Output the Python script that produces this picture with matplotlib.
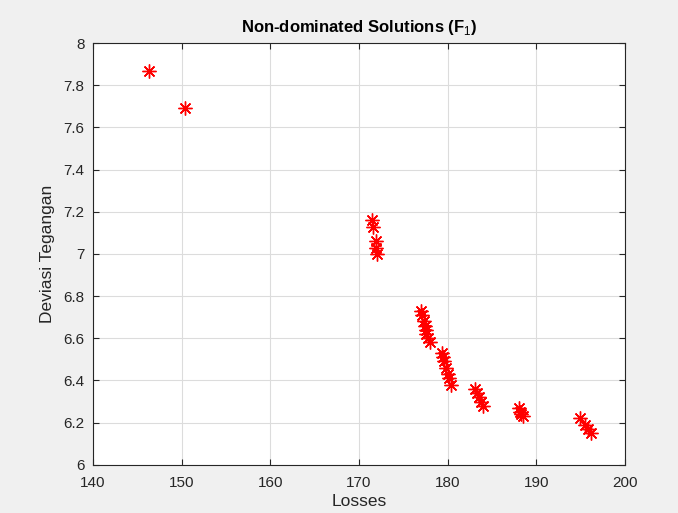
import matplotlib
matplotlib.use("Agg")
import matplotlib.pyplot as plt

plt.rcParams['font.family'] = ['Liberation Sans', 'DejaVu Sans']
plt.rcParams['mathtext.fontset'] = 'custom'
plt.rcParams['mathtext.rm'] = 'Liberation Sans'
plt.rcParams['mathtext.bf'] = 'Liberation Sans:bold'

losses = [146.3, 150.4,
          171.5, 171.6, 171.9, 171.9, 172.0,
          177.0, 177.1, 177.3, 177.4, 177.5, 177.6, 177.8, 178.0,
          179.4, 179.5, 179.6, 179.8, 180.0, 180.2, 180.4,
          183.1, 183.3, 183.5, 183.7, 184.0,
          188.0, 188.1, 188.3, 188.5,
          194.9, 195.5, 195.8, 196.1]
deviasi = [7.87, 7.69,
           7.16, 7.13, 7.06, 7.03, 7.00,
           6.73, 6.71, 6.68, 6.66, 6.64, 6.62, 6.60, 6.58,
           6.53, 6.51, 6.49, 6.46, 6.43, 6.41, 6.38,
           6.36, 6.34, 6.32, 6.30, 6.28,
           6.27, 6.25, 6.24, 6.23,
           6.22, 6.19, 6.17, 6.15]
xticks = [140, 150, 160, 170, 180, 190, 200]
yticks = [6, 6.2, 6.4, 6.6, 6.8, 7, 7.2, 7.4, 7.6, 7.8, 8]
ytick_labels = ["6", "6.2", "6.4", "6.6", "6.8", "7", "7.2", "7.4", "7.6", "7.8", "8"]

fig = plt.figure(figsize=(6.78, 5.13), dpi=100, facecolor="#f0f0f0")
ax = fig.add_axes([0.137, 0.094, 0.785, 0.822])
ax.set_facecolor("white")
ax.plot(losses, deviasi, linestyle="none", marker=(8, 2, 0), markersize=10,
        markeredgecolor="red", markeredgewidth=1.0, color="red")
ax.set_xlim(140, 200)
ax.set_ylim(6, 8)
ax.set_xticks(xticks)
ax.set_yticks(yticks)
ax.set_yticklabels(ytick_labels)
ax.grid(True, color="#dcdcdc", linewidth=0.8)
ax.set_axisbelow(True)
ax.tick_params(direction="in", top=True, right=True, labelsize=11,
               colors="#262626", length=4)
ax.tick_params(axis="x", pad=8)
ax.tick_params(axis="y", pad=6)
for s in ax.spines.values():
    s.set_color("#262626")
    s.set_linewidth(0.8)
ax.set_xlabel("Losses", fontsize=12.5, color="#262626", labelpad=3)
ax.set_ylabel("Deviasi Tegangan", fontsize=12.5, color="#262626", labelpad=6)
ax.set_title("Non-dominated Solutions (F$_1$)", fontsize=12, fontweight="bold",
             color="black", pad=8)
fig.savefig("out.png", dpi=100, facecolor=fig.get_facecolor())
